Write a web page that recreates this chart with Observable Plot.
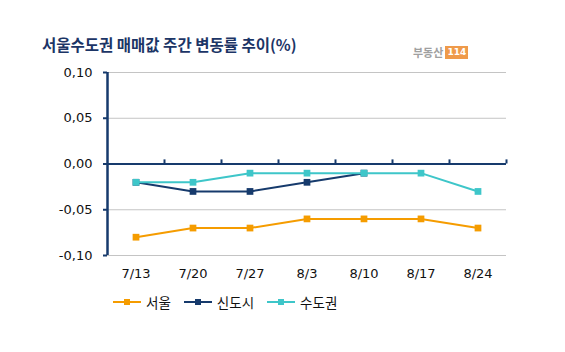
<!DOCTYPE html>
<html>
<head>
<meta charset="utf-8">
<script src="https://cdn.jsdelivr.net/npm/d3@7"></script>
<script src="https://cdn.jsdelivr.net/npm/@observablehq/plot@0.6"></script>
<style>
  html, body { margin: 0; padding: 0; background: #fff; }
  #wrap { position: relative; width: 565px; height: 352px; overflow: hidden; }
  #title { position: absolute; left: 42px; top: 33px; font-family: "Noto Sans CJK KR", sans-serif; font-weight: 700; font-size: 15.5px; color: #1c3566; white-space: nowrap; }
  #logo { position: absolute; left: 413px; top: 46px; font-family: "Noto Sans CJK KR", sans-serif; font-weight: 700; font-size: 11px; color: #a0a0a0; white-space: nowrap; line-height: 13px; }
  #logo span.box { display: inline-block; background: #ef9a4a; color: #fff; font-family: "DejaVu Sans", sans-serif; font-size: 9px; padding: 0 2px; margin-left: 2px; height: 13px; line-height: 13px; vertical-align: top; }
  #legend { position: absolute; left: 113px; top: 292px; font-family: "Noto Sans CJK KR", sans-serif; font-size: 13.5px; color: #111; display: flex; align-items: center; white-space: nowrap; }
  #legend .item { display: flex; align-items: center; margin-right: 13px; }
  #legend svg { margin-right: 5px; }
  #chart { position: absolute; left: 0; top: 0; }
</style>
</head>
<body>
<div id="wrap">
  <div id="chart"></div>
  <div id="title"></div>
  <div id="logo">부동산<span class="box">114</span></div>
  <div id="legend"></div>
</div>
<script>
const title = "서울수도권 매매값 주간 변동률 추이(%)";
const weeks = ["7/13", "7/20", "7/27", "8/3", "8/10", "8/17", "8/24"];
const seriesNames = ["서울", "신도시", "수도권"];
const seoul   = [-0.08, -0.07, -0.07, -0.06, -0.06, -0.06, -0.07];
const newtown = [-0.02, -0.03, -0.03, -0.02, -0.01, null, null];
const capital = [-0.02, -0.02, -0.01, -0.01, -0.01, -0.01, -0.03];
const yTicks = [0.10, 0.05, 0.00, -0.05, -0.10];
const gridTicks = [0.10, 0.05, -0.05, -0.10];
const colors = ["#f59c00", "#163a6c", "#3ec6c9"];

document.getElementById("title").textContent = title;

const allSeries = [seoul, newtown, capital];
const data = [];
allSeries.forEach((vals, s) => {
  vals.forEach((v, i) => {
    data.push({series: seriesNames[s], week: weeks[i], xi: i + 0.5, value: v});
  });
});

const fmt = d => (d < 0 ? "-" : "") + Math.abs(d).toFixed(2).replace(".", ",");

const marks = [
  Plot.ruleY(gridTicks, {stroke: "#c4c4c4", strokeWidth: 1}),
  Plot.ruleY([0], {stroke: "#163a6c", strokeWidth: 2}),
  Plot.ruleX(d3.range(1, weeks.length + 1), {y1: 0, y2: 0.0045, stroke: "#163a6c", strokeWidth: 2}),
  Plot.ruleX([0], {stroke: "#163a6c", strokeWidth: 2.5}),
  Plot.axisY({ticks: yTicks, tickFormat: () => "", tickSize: 4, stroke: "#163a6c", strokeWidth: 2, label: null}),
  Plot.axisY({ticks: yTicks, tickFormat: fmt, tickSize: 0, tickPadding: 15, fontSize: 13, fill: "#111", label: null}),
  Plot.axisX({ticks: weeks.map((w, i) => i + 0.5), tickFormat: (d) => weeks[Math.round(d - 0.5)], tickSize: 0, tickPadding: 13, fontSize: 13, fill: "#111", label: null})
];
seriesNames.forEach((name, s) => {
  const rows = data.filter(d => d.series === name);
  marks.push(Plot.line(rows, {x: "xi", y: "value", stroke: colors[s], strokeWidth: 2, defined: d => d.value != null}));
  marks.push(Plot.dot(rows.filter(d => d.value != null), {x: "xi", y: "value", symbol: "square", r: 3.8, fill: colors[s], stroke: "none"}));
});

const chart = Plot.plot({
  width: 565,
  height: 352,
  marginLeft: 107,
  marginRight: 59,
  marginTop: 72,
  marginBottom: 97,
  style: {fontFamily: "'DejaVu Sans', sans-serif", background: "transparent"},
  x: {type: "linear", domain: [0, weeks.length], axis: null},
  y: {domain: [-0.1, 0.1], axis: null},
  marks
});
document.getElementById("chart").appendChild(chart);

const legend = document.getElementById("legend");
seriesNames.forEach((name, s) => {
  const item = document.createElement("div");
  item.className = "item";
  item.innerHTML = `<svg width="28" height="10"><line x1="0" y1="5" x2="28" y2="5" stroke="${colors[s]}" stroke-width="2"/><rect x="11" y="2" width="6" height="6" fill="${colors[s]}"/></svg><span>${name}</span>`;
  legend.appendChild(item);
});
</script>
</body>
</html>
